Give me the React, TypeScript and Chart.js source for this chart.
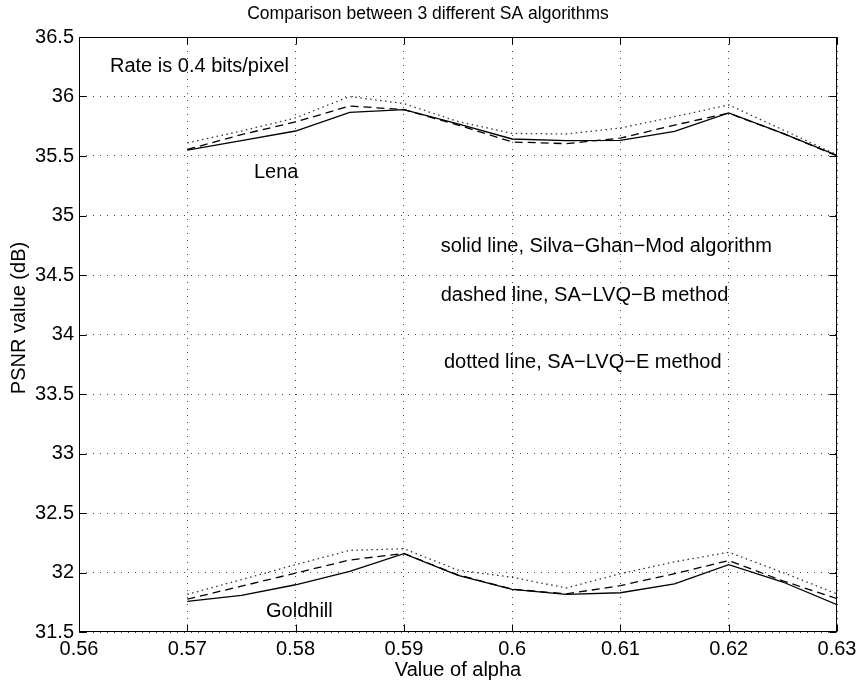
import React, { useEffect, useRef } from "react";
import { Chart, registerables } from "chart.js";

Chart.register(...registerables);

const ALPHA = [0.57, 0.575, 0.58, 0.585, 0.59, 0.595, 0.6, 0.605, 0.61, 0.615, 0.62, 0.625, 0.63];

const LENA_SOLID = [35.55, 35.63, 35.71, 35.867, 35.89, 35.77, 35.643, 35.63, 35.632, 35.707, 35.862, 35.69, 35.505];
const LENA_DASHED = [35.555, 35.68, 35.786, 35.92, 35.89, 35.76, 35.618, 35.604, 35.65, 35.76, 35.86, 35.69, 35.5];
const LENA_DOTTED = [35.61, 35.71, 35.82, 36.0, 35.94, 35.79, 35.69, 35.685, 35.735, 35.83, 35.93, 35.72, 35.51];

const GOLD_SOLID = [31.757, 31.807, 31.897, 32.01, 32.158, 31.975, 31.858, 31.816, 31.83, 31.905, 32.066, 31.92, 31.73];
const GOLD_DASHED = [31.776, 31.885, 31.995, 32.105, 32.16, 31.98, 31.86, 31.82, 31.89, 31.99, 32.1, 31.93, 31.78];
const GOLD_DOTTED = [31.816, 31.94, 32.066, 32.186, 32.2, 32.02, 31.96, 31.87, 31.99, 32.09, 32.17, 32.0, 31.82];

const X_TICKS = [0.56, 0.57, 0.58, 0.59, 0.6, 0.61, 0.62, 0.63];
const Y_TICKS = [31.5, 32, 32.5, 33, 33.5, 34, 34.5, 35, 35.5, 36, 36.5];

const TITLE = "Comparison between 3 different SA algorithms";
const X_LABEL = "Value of alpha";
const Y_LABEL = "PSNR value (dB)";

// annotations: [text, x (alpha), y (PSNR baseline)]
const NOTES: [string, number, number][] = [
  ["Rate is 0.4 bits/pixel", 0.56286, 36.21],
  ["Lena", 0.57616, 35.317],
  ["Goldhill", 0.57727, 31.622],
  ["solid line, Silva\u2212Ghan\u2212Mod algorithm", 0.5934, 34.697],
  ["dashed line, SA\u2212LVQ\u2212B method", 0.5934, 34.284],
  ["dotted line, SA\u2212LVQ\u2212E method", 0.5937, 33.718],
];

const FONT = '"Liberation Sans", Arial, Helvetica, sans-serif';

const fmt = (v: number) => String(Number(v.toFixed(3)));

const toPts = (ys: number[]) => ALPHA.map((x, i) => ({ x, y: ys[i] }));

const decor = {
  id: "matlabDecor",
  afterDraw(chart: any) {
    const { ctx, chartArea: a, scales } = chart;
    const xs = scales.x;
    const ys = scales.y;
    ctx.save();
    // box
    ctx.strokeStyle = "#000";
    ctx.lineWidth = 1;
    ctx.setLineDash([]);
    const L = Math.round(a.left) + 0.5;
    const R = Math.round(a.right) - 0.5;
    const T = Math.round(a.top) + 0.5;
    const B = Math.round(a.bottom) - 0.5;
    ctx.strokeRect(L, T, R - L, B - T);
    // inward ticks
    const tl = 7;
    ctx.beginPath();
    X_TICKS.forEach((v) => {
      const px = Math.round(xs.getPixelForValue(v)) + 0.5;
      ctx.moveTo(px, B);
      ctx.lineTo(px, B - tl);
      ctx.moveTo(px, T);
      ctx.lineTo(px, T + tl);
    });
    Y_TICKS.forEach((v) => {
      const py = Math.round(ys.getPixelForValue(v)) + 0.5;
      ctx.moveTo(L, py);
      ctx.lineTo(L + tl, py);
      ctx.moveTo(R, py);
      ctx.lineTo(R - tl, py);
    });
    ctx.stroke();

    ctx.fillStyle = "#000";
    ctx.textBaseline = "alphabetic";
    // title
    ctx.font = `17.5px ${FONT}`;
    ctx.textAlign = "center";
    ctx.fillText(TITLE, chart.width / 2, 19);
    // x label
    ctx.font = `20px ${FONT}`;
    ctx.fillText(X_LABEL, (a.left + a.right) / 2, 676);
    // y label
    ctx.save();
    ctx.translate(25, 318);
    ctx.rotate(-Math.PI / 2);
    ctx.fillText(Y_LABEL, 0, 0);
    ctx.restore();
    // notes
    ctx.textAlign = "left";
    NOTES.forEach(([t, x, y]) => {
      ctx.fillText(t, xs.getPixelForValue(x), ys.getPixelForValue(y));
    });
    ctx.restore();
  },
};

export default function App() {
  const ref = useRef<HTMLCanvasElement>(null);
  useEffect(() => {
    if (!ref.current) return;
    const line = (data: number[], dash: number[], color = "#000") => ({
      data: toPts(data),
      borderColor: color,
      borderWidth: 1.3,
      borderDash: dash,
      pointRadius: 0,
      tension: 0,
      fill: false,
    });
    const chart = new Chart(ref.current, {
      type: "line",
      data: {
        datasets: [
          line(LENA_SOLID, []),
          line(LENA_DASHED, [8, 5]),
          line(LENA_DOTTED, [1.5, 3.5], "#333"),
          line(GOLD_SOLID, []),
          line(GOLD_DASHED, [8, 5]),
          line(GOLD_DOTTED, [1.5, 3.5], "#333"),
        ] as any,
      },
      options: {
        animation: false,
        responsive: false,
        devicePixelRatio: 1,
        layout: { padding: { top: 37, right: 19, left: 0, bottom: 0 } },
        plugins: { legend: { display: false }, tooltip: { enabled: false }, title: { display: false } },
        scales: {
          x: {
            type: "linear",
            min: 0.56,
            max: 0.63,
            afterBuildTicks: (s: any) => {
              s.ticks = X_TICKS.map((v) => ({ value: v }));
            },
            afterFit: (s: any) => {
              s.height = 53;
              s.paddingLeft = 0;
              s.paddingRight = 0;
            },
            grid: { color: "#444", lineWidth: 1, drawTicks: false },
            border: { display: false, dash: [1, 6] },
            ticks: {
              color: "#000",
              font: { family: FONT, size: 20 },
              padding: 5,
              maxRotation: 0,
              autoSkip: false,
              callback: (v: any) => fmt(Number(v)),
            },
          },
          y: {
            type: "linear",
            min: 31.5,
            max: 36.5,
            afterBuildTicks: (s: any) => {
              s.ticks = Y_TICKS.map((v) => ({ value: v }));
            },
            afterFit: (s: any) => {
              s.width = 79;
              s.paddingTop = 0;
              s.paddingBottom = 0;
            },
            grid: { color: "#444", lineWidth: 1, drawTicks: false },
            border: { display: false, dash: [1, 6] },
            ticks: {
              color: "#000",
              font: { family: FONT, size: 20 },
              padding: 5,
              autoSkip: false,
              callback: (v: any) => fmt(Number(v)),
            },
          },
        },
      } as any,
      plugins: [decor],
    });
    return () => chart.destroy();
  }, []);
  return (
    <div style={{ position: "absolute", left: 0, top: 0, width: 856, height: 685, background: "#fff" }}>
      <canvas ref={ref} width={856} height={685} />
    </div>
  );
}
